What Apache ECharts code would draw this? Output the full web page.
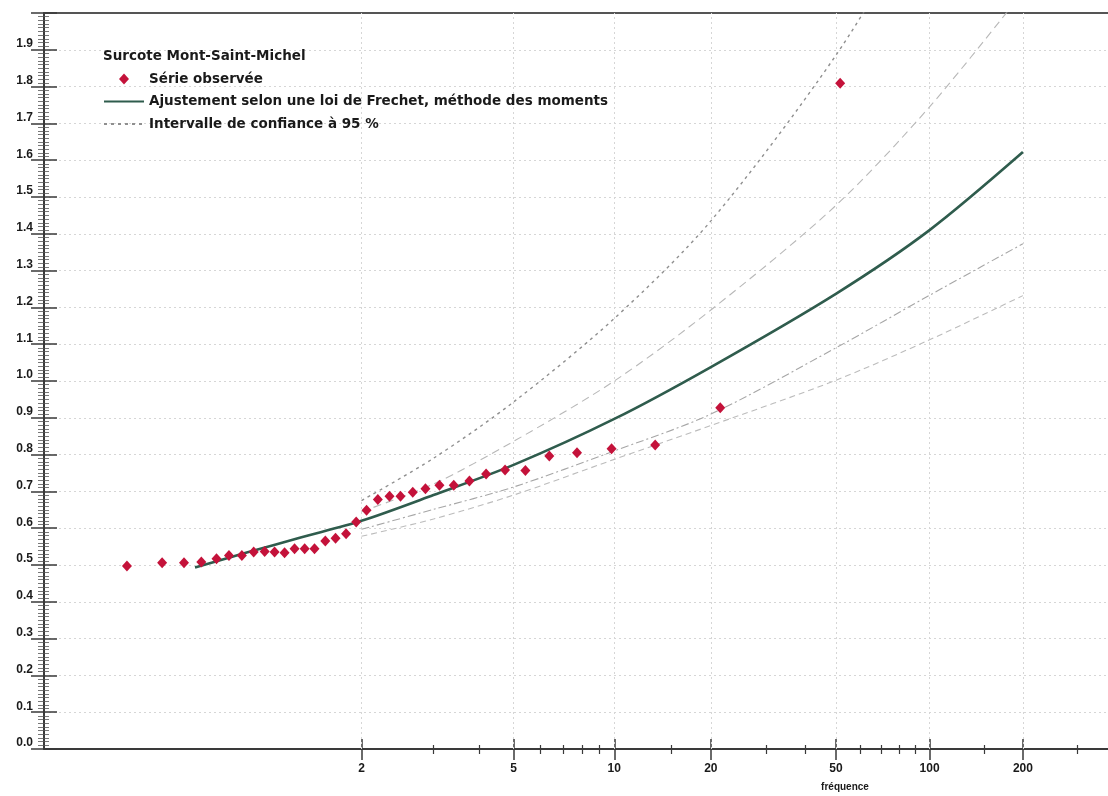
<!DOCTYPE html>
<html>
<head>
<meta charset="utf-8">
<script src="https://cdn.jsdelivr.net/npm/echarts@6/dist/echarts.min.js"></script>
<style>
html,body{margin:0;padding:0;background:#fff;}
#chart{width:1108px;height:796px;}
</style>
</head>
<body>
<div id="chart"></div>
<script>
// ---- data (return period "fréquence" and surge height in m) ----
const obsFreq = [1.019, 1.049, 1.080, 1.113, 1.149, 1.184, 1.226, 1.270, 1.316, 1.362, 1.413, 1.469,
                 1.531, 1.597, 1.676, 1.758, 1.850, 1.946, 2.053, 2.180, 2.324, 2.472, 2.653, 2.859,
                 3.111, 3.398, 3.750, 4.174, 4.725, 5.410, 6.362, 7.701, 9.81, 13.38, 21.41, 51.6];
const obsValue = [0.497, 0.506, 0.506, 0.508, 0.517, 0.526, 0.526, 0.535, 0.537, 0.535, 0.533, 0.544,
                  0.544, 0.544, 0.565, 0.573, 0.585, 0.617, 0.649, 0.678, 0.687, 0.687, 0.698, 0.707,
                  0.717, 0.717, 0.728, 0.747, 0.758, 0.757, 0.796, 0.805, 0.816, 0.826, 0.927, 1.809];

const fitFreq  = [1.1, 1.25, 1.5, 2, 3, 5, 10, 20, 50, 100, 200];
const fitValue = [0.493, 0.535, 0.574, 0.620, 0.690, 0.772, 0.897, 1.038, 1.237, 1.410, 1.622];

const ciFreq   = [2, 3, 5, 10, 20, 50, 100, 200];
const ciUpperA = [0.675, 0.790, 0.943, 1.170, 1.435, 1.885, 2.300, null];
const ciUpperB = [0.645, 0.720, 0.836, 1.000, 1.193, 1.477, 1.745, 2.057];
const ciLowerC = [0.597, 0.651, 0.712, 0.810, 0.910, 1.090, 1.233, 1.373];
const ciLowerD = [0.578, 0.625, 0.690, 0.787, 0.879, 1.002, 1.112, 1.232];

const majorTickFreq = [2, 5, 10, 20, 50, 100, 200];
const minorTickFreq = [3, 4, 6, 7, 8, 9, 15, 30, 40, 60, 70, 80, 90, 150, 300];
const yTickStep = 0.1;

// Gumbel probability paper: reduced variate of the return period
const gumbel = T => -Math.log(-Math.log(1 - 1 / T));
const invGumbel = u => 1 / (1 - Math.exp(-Math.exp(-u)));
const toPts = (fs, vs) => fs.map((f, i) => [gumbel(f), vs[i]]);

const X_MIN = -2.0, X_MAX = 5.93;
const FONT = 'Liberation Sans, Arial, sans-serif';
const LEGEND_FONT = 'DejaVu Sans, Verdana, sans-serif';
const AXIS_COLOR = '#3a3a3a';
const GRID_COLOR = '#d6d6d6';
const RED = '#c4123a';

const chart = echarts.init(document.getElementById('chart'), null, {renderer: 'canvas'});

const baseX = {
  type: 'value', min: X_MIN, max: X_MAX, position: 'bottom',
  axisLine: {show: false, onZero: false},
  axisTick: {show: false}, axisLabel: {show: false},
  splitLine: {show: false}, minorTick: {show: false}, minorSplitLine: {show: false}
};

const majorU = majorTickFreq.map(gumbel);
const minorU = minorTickFreq.map(gumbel);

const NAME_OBS = 'Série observée';
const NAME_FIT = 'Ajustement selon une loi de Frechet, méthode des moments';
const NAME_CI = 'Intervalle de confiance à 95 %';

const option = {
  animation: false,
  backgroundColor: '#ffffff',
  title: {
    text: 'Surcote Mont-Saint-Michel',
    left: 103, top: 49, padding: 0,
    textStyle: {fontFamily: LEGEND_FONT, fontSize: 13.5, fontWeight: 'bold', color: '#1a1a1a'}
  },
  legend: {
    orient: 'vertical', left: 103, top: 71, padding: 0,
    itemWidth: 40, itemHeight: 11, itemGap: 6.5, symbolKeepAspect: true,
    textStyle: {fontFamily: LEGEND_FONT, fontSize: 13.5, fontWeight: 'bold', color: '#1a1a1a', lineHeight: 16},
    data: [
      {name: NAME_OBS, icon: 'path://M5,0 L10,5.5 L5,11 L0,5.5 Z', itemStyle: {color: RED, opacity: 1}},
      {name: NAME_FIT, itemStyle: {opacity: 0}},
      {name: NAME_CI, itemStyle: {opacity: 0}}
    ]
  },
  grid: {left: 44, right: 0, top: 13, bottom: 47, containLabel: false},
  xAxis: [
    Object.assign({}, baseX, {
      axisLine: {show: true, onZero: false, lineStyle: {color: AXIS_COLOR, width: 2}},
      axisTick: {show: true, inside: false, length: 11, customValues: majorU,
                 lineStyle: {color: AXIS_COLOR, width: 1.5}},
      axisLabel: {show: true, customValues: majorU, margin: 14,
                  fontFamily: FONT, fontSize: 12, fontWeight: 'bold', color: '#1a1a1a',
                  formatter: v => String(Math.round(invGumbel(v)))}
    }),
    Object.assign({}, baseX, {
      axisTick: {show: true, inside: true, length: 10, customValues: majorU,
                 lineStyle: {color: AXIS_COLOR, width: 1.5}}
    }),
    Object.assign({}, baseX, {
      axisTick: {show: true, inside: false, length: 5, customValues: minorU,
                 lineStyle: {color: AXIS_COLOR, width: 1.2}}
    }),
    Object.assign({}, baseX, {
      axisTick: {show: true, inside: true, length: 4, customValues: minorU,
                 lineStyle: {color: AXIS_COLOR, width: 1.2}}
    }),
    Object.assign({}, baseX, {
      axisTick: {show: true, inside: true, length: 736, customValues: majorU,
                 lineStyle: {color: GRID_COLOR, width: 1, type: [2, 3]}}
    }),
    Object.assign({}, baseX, {
      position: 'top',
      axisLine: {show: true, onZero: false, lineStyle: {color: '#555', width: 2}}
    })
  ],
  yAxis: [
    {
      type: 'value', min: 0, max: 2.0, interval: yTickStep, position: 'left',
      axisLine: {show: true, onZero: false, lineStyle: {color: AXIS_COLOR, width: 2}},
      axisTick: {show: true, inside: false, length: 13, lineStyle: {color: AXIS_COLOR, width: 1.5}},
      minorTick: {show: true, splitNumber: 10, length: 6, lineStyle: {color: '#555', width: 0.8}},
      axisLabel: {show: true, margin: 11, showMaxLabel: false, verticalAlign: 'bottom',
                  fontFamily: FONT, fontSize: 12, fontWeight: 'bold', color: '#1a1a1a',
                  formatter: v => v.toFixed(1)},
      splitLine: {show: true, lineStyle: {color: GRID_COLOR, width: 1, type: [2, 3]}}
    },
    {
      type: 'value', min: 0, max: 2.0, interval: yTickStep, position: 'left',
      axisLine: {show: false, onZero: false},
      axisTick: {show: true, inside: true, length: 13, lineStyle: {color: AXIS_COLOR, width: 1.5}},
      minorTick: {show: true, splitNumber: 10, length: 5, lineStyle: {color: '#555', width: 0.8}},
      axisLabel: {show: false},
      splitLine: {show: false}
    }
  ],
  graphic: [
    {type: 'text', x: 845, y: 787,
     style: {text: 'fréquence', font: 'bold 10px ' + FONT, fill: '#1a1a1a', align: 'center', verticalAlign: 'middle'}}
  ],
  series: [
    {
      name: NAME_CI, type: 'line', data: toPts(ciFreq, ciUpperA),
      smooth: 0.3, symbol: 'none', clip: true, z: 3,
      itemStyle: {color: '#8f8f8f'},
      lineStyle: {color: '#8f8f8f', width: 1.4, type: [3, 4]}
    },
    {
      name: NAME_CI, type: 'line', data: toPts(ciFreq, ciUpperB),
      smooth: 0.3, symbol: 'none', clip: true, z: 3,
      itemStyle: {color: '#b8b8b8'},
      lineStyle: {color: '#b8b8b8', width: 1.1, type: [8, 5]}
    },
    {
      name: NAME_CI, type: 'line', data: toPts(ciFreq, ciLowerC),
      smooth: 0.3, symbol: 'none', clip: true, z: 3,
      itemStyle: {color: '#a6a6a6'},
      lineStyle: {color: '#a6a6a6', width: 1.1, type: [8, 3, 2, 3]}
    },
    {
      name: NAME_CI, type: 'line', data: toPts(ciFreq, ciLowerD),
      smooth: 0.3, symbol: 'none', clip: true, z: 3,
      itemStyle: {color: '#bcbcbc'},
      lineStyle: {color: '#bcbcbc', width: 1.1, type: [6, 4]}
    },
    {
      name: NAME_FIT, type: 'line',
      data: toPts(fitFreq, fitValue), smooth: 0.3, symbol: 'none', z: 4,
      itemStyle: {color: '#2f5c4d'},
      lineStyle: {color: '#2f5c4d', width: 2.6}
    },
    {
      name: NAME_OBS, type: 'scatter', data: toPts(obsFreq, obsValue),
      symbol: 'diamond', symbolSize: [10, 11], z: 5,
      itemStyle: {color: RED, opacity: 1}
    }
  ]
};
chart.setOption(option);
</script>
</body>
</html>
